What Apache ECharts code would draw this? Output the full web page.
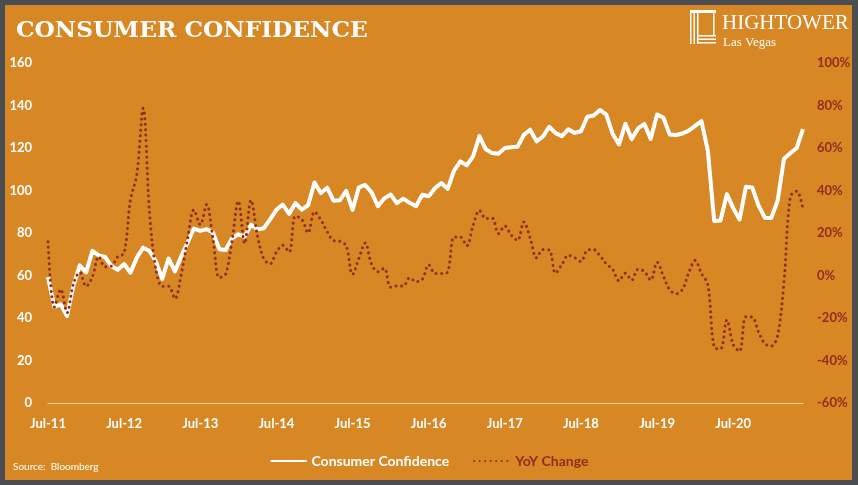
<!DOCTYPE html>
<html>
<head>
<meta charset="utf-8">
<script src="https://cdn.jsdelivr.net/npm/echarts@6/dist/echarts.min.js"></script>
<style>
html,body{margin:0;padding:0;background:#4a4d52;}
#c{width:858px;height:485px;}
</style>
</head>
<body>
<div id="c"></div>
<script>
var categories = [
'Jul-11','Aug-11','Sep-11','Oct-11','Nov-11','Dec-11',
'Jan-12','Feb-12','Mar-12','Apr-12','May-12','Jun-12','Jul-12','Aug-12','Sep-12','Oct-12','Nov-12','Dec-12',
'Jan-13','Feb-13','Mar-13','Apr-13','May-13','Jun-13','Jul-13','Aug-13','Sep-13','Oct-13','Nov-13','Dec-13',
'Jan-14','Feb-14','Mar-14','Apr-14','May-14','Jun-14','Jul-14','Aug-14','Sep-14','Oct-14','Nov-14','Dec-14',
'Jan-15','Feb-15','Mar-15','Apr-15','May-15','Jun-15','Jul-15','Aug-15','Sep-15','Oct-15','Nov-15','Dec-15',
'Jan-16','Feb-16','Mar-16','Apr-16','May-16','Jun-16','Jul-16','Aug-16','Sep-16','Oct-16','Nov-16','Dec-16',
'Jan-17','Feb-17','Mar-17','Apr-17','May-17','Jun-17','Jul-17','Aug-17','Sep-17','Oct-17','Nov-17','Dec-17',
'Jan-18','Feb-18','Mar-18','Apr-18','May-18','Jun-18','Jul-18','Aug-18','Sep-18','Oct-18','Nov-18','Dec-18',
'Jan-19','Feb-19','Mar-19','Apr-19','May-19','Jun-19','Jul-19','Aug-19','Sep-19','Oct-19','Nov-19','Dec-19',
'Jan-20','Feb-20','Mar-20','Apr-20','May-20','Jun-20','Jul-20','Aug-20','Sep-20','Oct-20','Nov-20','Dec-20',
'Jan-21','Feb-21','Mar-21','Apr-21','May-21','Jun-21'
];

var consumerConfidence = [
59.2,45.2,46.4,40.9,55.2,64.8,
61.5,71.6,69.5,68.7,64.4,62.7,65.4,61.3,68.4,73.1,71.5,66.7,
58.4,68.0,61.9,69.0,75.5,82.1,81.0,81.8,80.2,72.4,72.0,77.5,
79.4,78.3,83.9,81.7,82.2,86.4,90.9,93.4,89.0,94.1,91.0,93.1,
103.8,98.8,101.3,95.2,95.4,99.8,90.9,101.5,102.6,99.1,92.6,96.3,
98.1,94.0,96.2,94.2,92.6,98.0,97.3,101.1,103.5,100.8,109.4,113.7,
111.8,116.1,125.6,119.4,117.6,117.3,120.0,120.4,120.6,126.2,128.6,123.1,
125.4,130.0,127.0,125.6,128.8,127.1,127.9,134.7,135.3,137.9,135.7,126.6,
121.7,131.4,124.2,129.2,131.3,124.3,135.8,134.2,126.3,126.1,126.8,128.2,
130.4,132.6,118.8,85.7,85.9,98.3,91.7,86.3,101.8,101.4,92.9,87.1,
87.1,95.2,114.9,117.5,120.0,128.9
];

var yoyChange = [
15.9,-14.9,-6.5,-17.5,-4.0,1.5,
-5.1,-0.6,8.9,4.1,4.4,8.9,10.5,35.6,47.4,78.7,29.5,2.9,
-5.0,-5.0,-10.9,0.4,17.2,30.9,23.9,33.4,17.3,-1.0,0.7,16.2,
35.0,15.1,35.5,19.0,7.9,5.5,11.0,14.2,11.0,28.0,26.4,20.1,
30.0,26.2,20.7,16.5,16.1,14.0,0.5,8.0,15.3,5.3,1.8,3.4,
-5.5,-4.9,-5.0,-1.1,-2.9,-1.8,5.0,1.0,0.9,1.7,18.1,18.1,
14.0,23.5,30.6,26.8,27.0,19.7,23.3,19.1,16.5,25.2,17.6,8.3,
12.2,12.0,1.1,5.2,9.5,8.4,6.6,11.9,12.2,9.3,5.5,2.8,
-2.5,1.1,-2.2,2.9,1.9,-2.2,6.2,-0.4,-6.7,-8.6,-6.6,1.3,
7.1,0.9,-4.3,-33.7,-34.6,-20.9,-32.5,-35.7,-19.4,-19.6,-26.7,-32.1,
-33.2,-28.2,-3.3,37.1,39.7,31.1
];

var seriesNames = ['Consumer Confidence', 'YoY Change'];
var titleText = 'CONSUMER CONFIDENCE';

var ORANGE = '#d78825';
var FRAME = '#4a4d52';
var RED = '#952b1f';
var FONT = 'Lato, "Noto Sans", sans-serif';

var chart = echarts.init(document.getElementById('c'), null, {renderer: 'canvas'});
chart.setOption({
  backgroundColor: ORANGE,
  animation: false,
  graphic: [
    {type: 'rect', shape: {x: 0, y: 0, width: 858, height: 5}, style: {fill: FRAME}, z: 100},
    {type: 'rect', shape: {x: 0, y: 0, width: 5, height: 485}, style: {fill: FRAME}, z: 100},
    {type: 'rect', shape: {x: 852, y: 0, width: 6, height: 485}, style: {fill: FRAME}, z: 100},
    {type: 'rect', shape: {x: 0, y: 480, width: 858, height: 5}, style: {fill: FRAME}, z: 100},
    {type: 'text', x: 16, y: 20, scaleX: 1.06,
     style: {text: titleText, fill: '#fff', font: 'bold 22px "DejaVu Serif", serif'}},
    {type: 'text', left: 722, top: 13, style: {text: 'HIGHTOWER', fill: '#fff', font: '21px "Liberation Serif", serif'}},
    {type: 'text', left: 723, top: 36, style: {text: 'Las Vegas', fill: '#fff', font: '13px "Liberation Serif", serif'}},
    {type: 'group', children: [
      {type: 'rect', shape: {x: 690, y: 10, width: 26, height: 3}, style: {fill: '#fff'}},
      {type: 'rect', shape: {x: 690, y: 13, width: 1.5, height: 31}, style: {fill: '#fff'}},
      {type: 'rect', shape: {x: 693.5, y: 13, width: 1.5, height: 31}, style: {fill: '#fff'}},
      {type: 'rect', shape: {x: 697, y: 13, width: 1.5, height: 31}, style: {fill: '#fff'}},
      {type: 'rect', shape: {x: 713, y: 13, width: 1.5, height: 22}, style: {fill: '#fff'}},
      {type: 'rect', shape: {x: 698.5, y: 35, width: 17.5, height: 1.5}, style: {fill: '#fff'}},
      {type: 'rect', shape: {x: 698.5, y: 38.5, width: 17.5, height: 1.5}, style: {fill: '#fff'}},
      {type: 'rect', shape: {x: 698.5, y: 42, width: 17.5, height: 1.5}, style: {fill: '#fff'}}
    ]},
    {type: 'text', left: 13, top: 462, style: {text: 'Source:  Bloomberg', fill: '#fff', font: '10px ' + FONT}}
  ],
  legend: {
    top: 449, left: 'center',
    itemWidth: 36, itemHeight: 14, itemGap: 24,
    itemStyle: {opacity: 0},
    textStyle: {fontFamily: FONT, fontWeight: 'bold', fontSize: 14},
    data: [
      {name: seriesNames[0], textStyle: {color: '#ffffff'}},
      {name: seriesNames[1], textStyle: {color: RED}}
    ]
  },
  grid: {left: 48, right: 55, top: 63, bottom: 82, containLabel: false},
  xAxis: {
    type: 'category',
    data: categories,
    boundaryGap: false,
    axisLine: {show: true, lineStyle: {color: '#f3d6a8', width: 1}},
    axisTick: {show: false},
    axisLabel: {interval: 11, color: '#fff', fontFamily: FONT, fontWeight: 'bold', fontSize: 13, margin: 14},
    splitLine: {show: false}
  },
  yAxis: [
    {
      type: 'value', min: 0, max: 160, interval: 20,
      axisLine: {show: false}, axisTick: {show: false}, splitLine: {show: false},
      axisLabel: {color: '#fff', fontFamily: FONT, fontWeight: 'bold', fontSize: 13, margin: 16}
    },
    {
      type: 'value', min: -60, max: 100, interval: 20, position: 'right',
      axisLine: {show: false}, axisTick: {show: false}, splitLine: {show: false},
      axisLabel: {color: RED, fontFamily: FONT, fontWeight: 'bold', fontSize: 13, margin: 14, formatter: '{value}%'}
    }
  ],
  series: [
    {
      name: seriesNames[0], type: 'line', yAxisIndex: 0,
      data: consumerConfidence, symbol: 'none',
      lineStyle: {color: '#ffffff', width: 4, join: 'round'},
      itemStyle: {color: '#ffffff'}
    },
    {
      name: seriesNames[1], type: 'line', yAxisIndex: 1,
      data: yoyChange, symbol: 'none', smooth: 0.35,
      lineStyle: {color: RED, width: 3, type: [0.01, 5.5], cap: 'round'},
      itemStyle: {color: RED}
    }
  ]
});
</script>
</body>
</html>
